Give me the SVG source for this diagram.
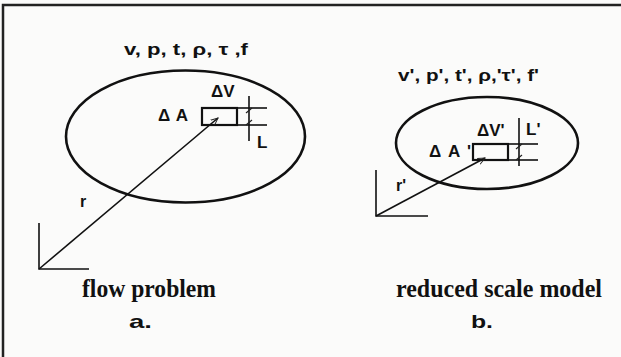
<svg xmlns="http://www.w3.org/2000/svg" width="621" height="357" viewBox="0 0 621 357">
  <style>
    .bg { fill: #fbfbfa; }
    .frame { stroke: #222; stroke-width: 2.5; fill: none; }
    .ell { fill: none; stroke: #111; stroke-width: 2.6; }
    .box { fill: none; stroke: #111; stroke-width: 2.2; }
    .ln { fill: none; stroke: #111; stroke-width: 1.6; }
    .thin { fill: none; stroke: #222; stroke-width: 1.1; }
    .lbl { font-family: "Liberation Sans", Arial, sans-serif; font-weight: bold; fill: #111; }
    .cap { font-family: "Liberation Serif", "Times New Roman", serif; font-weight: bold; fill: #111; }
  </style>
  <defs>
    <marker id="arr" viewBox="0 0 10 10" refX="9" refY="5" markerWidth="8" markerHeight="8" orient="auto" markerUnits="userSpaceOnUse">
      <path d="M0,1 L9,5 L0,9" fill="none" stroke="#222" stroke-width="1.2"/>
    </marker>
  </defs>

  <rect class="bg" x="0" y="0" width="621" height="357"/>
  <g id="frame">
    <path class="frame" d="M3,357 V5 H621"/>
  </g>

  <!-- Left panel: flow problem -->
  <g id="flow-domain">
    <ellipse class="ell" cx="185.5" cy="136.5" rx="119.5" ry="66"/>
    <text class="lbl" x="124" y="55" font-size="17" textLength="124" lengthAdjust="spacingAndGlyphs">v, p, t, ρ, τ ,f</text>
  </g>
  <g id="element-dV">
    <rect class="box" x="202" y="108" width="35" height="17"/>
    <text class="lbl" x="211" y="97" font-size="17">ΔV</text>
    <text class="lbl" x="158" y="121" font-size="17" textLength="30" lengthAdjust="spacing">ΔA</text>
  </g>
  <g id="dimension-L">
    <line class="ln" x1="237" y1="108" x2="267" y2="108"/>
    <line class="ln" x1="237" y1="125" x2="267" y2="125"/>
    <line class="ln" x1="249" y1="96" x2="249" y2="141"/>
    <line class="thin" x1="246" y1="113" x2="252" y2="108"/>
    <line class="thin" x1="246" y1="125" x2="252" y2="120"/>
    <text class="lbl" x="257" y="148" font-size="17">L</text>
  </g>
  <g id="axes-left">
    <path class="ln" d="M39,223 V269 H89"/>
  </g>
  <g id="label-r">
    <text class="lbl" x="80" y="207" font-size="16">r</text>
  </g>
  <g id="caption-a">
    <text class="cap" x="82" y="297" font-size="25" textLength="134" lengthAdjust="spacingAndGlyphs">flow problem</text>
    <text class="lbl" x="129" y="328" font-size="19" textLength="23" lengthAdjust="spacingAndGlyphs">a.</text>
  </g>

  <!-- Right panel: reduced scale model -->
  <g id="model-domain">
    <ellipse class="ell" cx="487" cy="143" rx="91" ry="46"/>
    <text class="lbl" x="398" y="81" font-size="17" textLength="141" lengthAdjust="spacingAndGlyphs">v', p', t', ρ,'τ', f'</text>
  </g>
  <g id="element-dV-prime">
    <rect class="box" x="473" y="144" width="35" height="16"/>
    <text class="lbl" x="477" y="136" font-size="17">ΔV'</text>
    <text class="lbl" x="429" y="157" font-size="17" textLength="42" lengthAdjust="spacing">ΔA'</text>
  </g>
  <g id="dimension-L-prime">
    <line class="ln" x1="508" y1="144" x2="538" y2="144"/>
    <line class="ln" x1="508" y1="160" x2="538" y2="160"/>
    <line class="ln" x1="519" y1="118" x2="519" y2="166"/>
    <line class="thin" x1="516" y1="149" x2="522" y2="144"/>
    <line class="thin" x1="516" y1="160" x2="522" y2="155"/>
    <text class="lbl" x="526" y="135" font-size="17">L'</text>
  </g>
  <g id="axes-right">
    <path class="ln" d="M376,170 V216 H428"/>
  </g>
  <g id="label-r-prime">
    <text class="lbl" x="396" y="191" font-size="16">r'</text>
  </g>
  <g id="caption-b">
    <text class="cap" x="396" y="297" font-size="25" textLength="206" lengthAdjust="spacingAndGlyphs">reduced scale model</text>
    <text class="lbl" x="471" y="328" font-size="19" textLength="22" lengthAdjust="spacingAndGlyphs">b.</text>
  </g>

  <!-- Connectors: position vectors -->
  <g id="connectors">
    <line class="ln" x1="39" y1="269" x2="218" y2="118" marker-end="url(#arr)"/>
    <line class="ln" x1="376" y1="216" x2="485" y2="158" marker-end="url(#arr)"/>
  </g>
</svg>
